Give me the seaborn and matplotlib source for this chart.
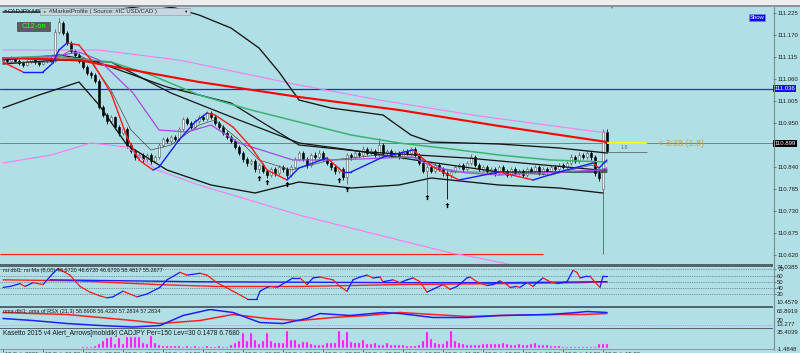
import numpy as np
import pandas as pd
import matplotlib
matplotlib.use("Agg")
import matplotlib.pyplot as plt
from matplotlib.patches import Rectangle
from matplotlib.lines import Line2D
from matplotlib.transforms import ScaledTranslation
import seaborn as sns

# ------------------------------------------------------------------ data
bar_idx = list(range(152))
opens = [111.106, 111.110, 111.104, 111.112, 111.106, 111.100, 111.096, 111.104, 111.109, 111.102,
         111.098, 111.105, 111.112, 111.106, 111.178, 111.200, 111.175, 111.150, 111.130, 111.120,
         111.105, 111.090, 111.075, 111.070, 111.055, 110.990, 110.970, 110.955, 110.965, 110.940,
         110.925, 110.935, 110.895, 110.880, 110.865, 110.870, 110.860, 110.870, 110.855, 110.865,
         110.895, 110.910, 110.905, 110.915, 110.910, 110.935, 110.960, 110.950, 110.940, 110.955,
         110.965, 110.960, 110.975, 110.965, 110.950, 110.940, 110.925, 110.915, 110.905, 110.890,
         110.875, 110.860, 110.850, 110.855, 110.835, 110.845, 110.830, 110.820, 110.835, 110.825,
         110.840, 110.835, 110.820, 110.840, 110.860, 110.875, 110.860, 110.845, 110.870, 110.865,
         110.875, 110.860, 110.850, 110.840, 110.830, 110.835, 110.815, 110.870, 110.865, 110.875,
         110.870, 110.885, 110.875, 110.880, 110.870, 110.895, 110.875, 110.880, 110.870, 110.875,
         110.865, 110.880, 110.875, 110.885, 110.870, 110.850, 110.830, 110.840, 110.830, 110.845,
         110.835, 110.825, 110.820, 110.830, 110.840, 110.845, 110.835, 110.850, 110.865, 110.845,
         110.835, 110.840, 110.830, 110.835, 110.825, 110.840, 110.830, 110.820, 110.835, 110.825,
         110.830, 110.820, 110.835, 110.830, 110.840, 110.825, 110.835, 110.830, 110.840, 110.835,
         110.845, 110.840, 110.850, 110.865, 110.855, 110.870, 110.865, 110.875, 110.865, 110.825,
         110.785, 110.928]
closes = [111.110, 111.104, 111.112, 111.106, 111.100, 111.096, 111.104, 111.109, 111.102, 111.098,
          111.105, 111.112, 111.106, 111.178, 111.203, 111.175, 111.150, 111.130, 111.120, 111.105,
          111.090, 111.075, 111.070, 111.055, 110.990, 110.970, 110.955, 110.965, 110.940, 110.925,
          110.935, 110.895, 110.880, 110.865, 110.870, 110.860, 110.870, 110.855, 110.865, 110.895,
          110.910, 110.905, 110.915, 110.910, 110.935, 110.960, 110.950, 110.940, 110.955, 110.965,
          110.960, 110.975, 110.965, 110.950, 110.940, 110.925, 110.915, 110.905, 110.890, 110.875,
          110.860, 110.850, 110.855, 110.835, 110.845, 110.830, 110.820, 110.835, 110.825, 110.840,
          110.835, 110.820, 110.840, 110.860, 110.875, 110.860, 110.845, 110.870, 110.865, 110.875,
          110.860, 110.850, 110.840, 110.830, 110.835, 110.815, 110.870, 110.865, 110.875, 110.870,
          110.885, 110.875, 110.880, 110.870, 110.895, 110.875, 110.880, 110.870, 110.875, 110.865,
          110.880, 110.875, 110.885, 110.870, 110.850, 110.830, 110.840, 110.830, 110.845, 110.835,
          110.825, 110.820, 110.830, 110.840, 110.845, 110.835, 110.850, 110.865, 110.845, 110.835,
          110.840, 110.830, 110.835, 110.825, 110.840, 110.830, 110.820, 110.835, 110.825, 110.830,
          110.820, 110.835, 110.830, 110.840, 110.825, 110.835, 110.830, 110.840, 110.835, 110.845,
          110.840, 110.850, 110.865, 110.855, 110.870, 110.865, 110.875, 110.865, 110.825, 110.812,
          110.928, 110.880]
highs = [111.115, 111.114, 111.117, 111.116, 111.110, 111.105, 111.109, 111.114, 111.113, 111.106,
         111.110, 111.118, 111.116, 111.184, 111.212, 111.206, 111.180, 111.156, 111.136, 111.125,
         111.110, 111.095, 111.080, 111.076, 111.060, 110.996, 110.975, 110.970, 110.968, 110.945,
         110.941, 110.940, 110.900, 110.884, 110.876, 110.875, 110.875, 110.874, 110.870, 110.900,
         110.915, 110.914, 110.921, 110.919, 110.940, 110.966, 110.964, 110.955, 110.960, 110.971,
         110.969, 110.980, 110.979, 110.969, 110.955, 110.944, 110.930, 110.920, 110.909, 110.894,
         110.880, 110.864, 110.861, 110.859, 110.851, 110.850, 110.835, 110.841, 110.840, 110.846,
         110.845, 110.839, 110.846, 110.866, 110.881, 110.880, 110.865, 110.876, 110.878, 110.882,
         110.879, 110.865, 110.855, 110.845, 110.841, 110.839, 110.876, 110.875, 110.882, 110.880,
         110.892, 110.890, 110.887, 110.885, 110.912, 110.900, 110.886, 110.884, 110.881, 110.879,
         110.886, 110.884, 110.891, 110.889, 110.874, 110.855, 110.846, 110.845, 110.851, 110.850,
         110.840, 110.830, 110.836, 110.846, 110.851, 110.850, 110.856, 110.872, 110.870, 110.850,
         110.846, 110.845, 110.841, 110.840, 110.846, 110.845, 110.834, 110.841, 110.840, 110.836,
         110.835, 110.841, 110.840, 110.846, 110.845, 110.841, 110.840, 110.846, 110.845, 110.851,
         110.850, 110.856, 110.872, 110.870, 110.877, 110.875, 110.882, 110.880, 110.870, 110.830,
         110.935, 110.935]
lows = [111.101, 111.099, 111.100, 111.102, 111.094, 111.090, 111.092, 111.100, 111.097, 111.093,
        111.094, 111.101, 111.102, 111.103, 111.172, 111.170, 111.145, 111.125, 111.114, 111.100,
        111.084, 111.069, 111.063, 111.050, 110.984, 110.964, 110.948, 110.950, 110.934, 110.918,
        110.920, 110.888, 110.874, 110.858, 110.860, 110.852, 110.855, 110.848, 110.850, 110.861,
        110.890, 110.899, 110.901, 110.904, 110.906, 110.931, 110.945, 110.935, 110.936, 110.950,
        110.954, 110.956, 110.960, 110.945, 110.934, 110.920, 110.909, 110.899, 110.884, 110.869,
        110.853, 110.843, 110.845, 110.828, 110.826, 110.824, 110.813, 110.816, 110.818, 110.820,
        110.828, 110.812, 110.815, 110.836, 110.855, 110.854, 110.838, 110.840, 110.858, 110.860,
        110.854, 110.844, 110.833, 110.823, 110.824, 110.808, 110.797, 110.858, 110.860, 110.864,
        110.866, 110.869, 110.870, 110.864, 110.866, 110.868, 110.870, 110.864, 110.865, 110.859,
        110.861, 110.869, 110.870, 110.864, 110.844, 110.824, 110.772, 110.824, 110.826, 110.829,
        110.818, 110.760, 110.812, 110.826, 110.835, 110.829, 110.831, 110.846, 110.839, 110.829,
        110.830, 110.824, 110.825, 110.818, 110.821, 110.824, 110.814, 110.816, 110.819, 110.820,
        110.814, 110.816, 110.824, 110.825, 110.819, 110.820, 110.824, 110.825, 110.829, 110.830,
        110.834, 110.835, 110.845, 110.849, 110.850, 110.859, 110.860, 110.858, 110.818, 110.806,
        110.622, 110.874]

# moving averages / bands on the price chart (bar index, price)
red200_x = [0, 19, 24, 49, 74, 99, 124, 151]
red200_y = [111.1125, 111.1075, 111.0975, 111.0525, 111.015, 110.9825, 110.9425, 110.9025]
green_x = [0, 12, 27, 37, 49, 62, 74, 87, 99, 112, 124, 137, 151]
green_y = [111.1125, 111.1175, 111.1025, 111.070, 111.020, 110.9825, 110.9525, 110.920, 110.900,
           110.885, 110.870, 110.8575, 110.8525]
pink_up_x = [0, 24, 44, 74, 94, 119, 149, 151]
pink_up_y = [111.1325, 111.1325, 111.1075, 111.045, 111.0075, 110.9675, 110.9275, 110.9275]
pink_lo_x = [0, 12, 22, 31, 38.5, 49, 59, 74, 87, 99, 112, 119, 132]
pink_lo_y = [110.850, 110.870, 110.900, 110.890, 110.8325, 110.795, 110.765, 110.720, 110.6875,
             110.6575, 110.625, 110.6125, 110.585]
blk_up_x = [0, 24, 37, 43, 49, 57, 64, 69, 74, 82, 95, 102, 107, 124, 139, 151]
blk_up_y = [111.2275, 111.2275, 111.245, 111.2375, 111.220, 111.1875, 111.1375, 111.0775, 111.0075,
            110.9875, 110.970, 110.920, 110.9025, 110.8975, 110.8875, 110.875]
blk_lo_x = [0, 9, 19, 24, 31, 41, 52, 63, 74, 87, 99, 107, 124, 139, 150]
blk_lo_y = [110.9875, 111.020, 111.0525, 110.995, 110.895, 110.8325, 110.795, 110.775, 110.8025,
            110.7875, 110.795, 110.8125, 110.795, 110.7875, 110.775]
mid1_x = [0, 14, 22, 41, 57, 72, 74, 91, 116, 149, 151]
mid1_y = [111.1075, 111.120, 111.1075, 111.040, 111.000, 110.9075, 110.895, 110.8775, 110.8625,
          110.8325, 110.8325]
mid2_x = [0, 14, 27, 42, 59, 74, 87, 103, 124, 151]
mid2_y = [111.0975, 111.1075, 111.1025, 111.025, 110.9575, 110.900, 110.8825, 110.8575, 110.8275,
          110.8275]
gray_x = [0, 12, 17, 22, 27, 32, 37, 42, 49, 53, 59, 64, 72, 82, 94, 104, 112, 124, 137, 147, 149]
gray_y = [111.100, 111.1025, 111.1325, 111.1025, 111.0325, 110.9325, 110.8825, 110.895, 110.945,
          110.9575, 110.9075, 110.8575, 110.8325, 110.8575, 110.870, 110.8625, 110.8275, 110.8275,
          110.820, 110.845, 110.8375]
violet_x = [0, 12, 19, 24, 32.5, 39, 46, 52, 59, 72.5, 82.5, 102.5, 107.5, 116, 124, 149, 151]
violet_y = [111.1125, 111.115, 111.1275, 111.1075, 111.025, 110.9325, 110.9275, 110.945, 110.900,
            110.8575, 110.8575, 110.865, 110.840, 110.825, 110.820, 110.8325, 110.8375]
fast_x = [0, 2, 5, 10, 12.5, 14, 16, 19, 22, 27, 31, 34, 37.5, 39, 44, 48, 51, 53, 57.5, 62,
          66, 71, 74, 81, 85, 87, 95, 102.5, 107.5, 114, 124, 132.5, 139, 147.5, 149, 151]
fast_y = [111.1025, 111.0925, 111.0775, 111.0775, 111.100, 111.1325, 111.150, 111.145, 111.1075,
          111.025, 110.915, 110.8575, 110.8325, 110.840, 110.9075, 110.9525, 110.975, 110.970,
          110.940, 110.890, 110.8325, 110.8075, 110.8375, 110.8625, 110.8275, 110.8275, 110.865,
          110.8825, 110.840, 110.8075, 110.8275, 110.8075, 110.8275, 110.850, 110.8375, 110.8575]
arrow_bars = [64, 66, 71, 84, 86, 106, 111]
arrow_prices = [110.8125, 110.803, 110.798, 110.8075, 110.785, 110.765, 110.745]

level_blue = 111.036
bid_price = 110.899
profile_level = 110.6225
profile_end_bar = 135
price_ticks = [111.225, 111.170, 111.115, 111.060, 111.005, 110.950, 110.895, 110.840,
               110.785, 110.730, 110.675, 110.620]

# RSI panel
rsi_x = [0, 1.75, 4.25, 5.5, 7.5, 10, 12.5, 13.75, 15.5, 16.75, 19.25, 21.75, 24.25, 26, 27.5, 30,
         33.5, 36, 39.25, 41, 44.25, 46, 49.25, 51, 53.5, 57.5, 61, 63.5, 64.25, 66, 66.75, 68.5,
         72.5, 74.25, 76, 77.5, 79.25, 82.5, 84.25, 86, 87.5, 89.25, 91, 92.5, 94.25, 95, 97.5,
         99.25, 101, 102.5, 104.25, 106, 107.5, 108.5, 110, 111.75, 113.5, 116, 116.75, 118.5, 121,
         122.5, 124.25, 126, 126.75, 128.5, 129.25, 131, 132.5, 133.5, 135, 136.75, 138.5, 141,
         142.5, 143.5, 144.25, 146, 146.75, 147.5, 149.25, 150, 151]
rsi_y = [40.8, 42.3, 46.9, 42.3, 48.5, 45.4, 63.8, 71.5, 65.4, 60.8, 42.3, 33.1, 26.9, 23.8, 25.4,
         34.6, 25.4, 30.0, 40.8, 53.1, 65.4, 60.8, 63.8, 60.8, 48.5, 34.6, 22.3, 22.3, 34.6, 40.8,
         42.3, 40.8, 56.2, 56.2, 45.4, 56.2, 57.7, 53.1, 42.3, 34.6, 53.1, 57.7, 60.8, 56.2, 57.7,
         50.0, 53.1, 48.5, 53.1, 56.2, 50.0, 33.1, 37.7, 40.8, 45.4, 37.7, 42.3, 56.2, 57.7, 50.0,
         43.8, 45.4, 51.5, 45.4, 40.8, 42.3, 40.8, 48.5, 42.3, 48.5, 56.2, 50.0, 46.9, 50.0, 68.5,
         65.4, 56.2, 59.2, 59.2, 53.1, 40.8, 59.2, 59.2]
rsi_red_x = [0, 18.5, 38.5, 53.5, 74.25, 99.25, 124.25, 144.25, 151]
rsi_red_y = [53.1, 51.5, 45.4, 42.3, 42.3, 45.4, 46.9, 48.5, 50.0]
rsi_blue_x = [11.75, 49.25, 99.25, 124.25, 149.25, 151]
rsi_blue_y = [53.1, 50.0, 48.5, 48.5, 50.0, 50.0]
rsi_levels = [70, 60, 50, 40, 30]

# OMA of RSX panel
oma_blue_x = [0, 7.5, 16, 24.25, 32.5, 39.25, 45, 51.75, 57.5, 64.25, 70, 76, 79.25, 86.75, 95,
              99.25, 107.5, 116, 124.25, 136.75, 143.5, 146, 151]
oma_blue_y = [38.2, 32.6, 24.3, 18.8, 14.6, 18.8, 46.5, 63.1, 54.8, 27.1, 24.3, 38.2, 52.0, 46.5,
              54.8, 52.0, 41.0, 41.0, 46.5, 49.3, 54.8, 57.6, 54.8]
oma_red_x = [0, 7.5, 16, 24.25, 32.5, 39.25, 49.25, 57.5, 66, 74.25, 82.5, 91, 99.25, 107.5, 116,
             124.25, 136.75, 145, 151]
oma_red_y = [54.8, 52.0, 49.3, 41.0, 32.6, 24.3, 32.6, 49.3, 38.2, 32.6, 41.0, 46.5, 54.8, 49.3,
             43.8, 46.5, 49.3, 49.3, 52.0]

# Kasetto histogram
kasetto = [0.5, 0.5, 0.5, 0.5, 0.5, 0.5, 0.5, 0.5, 0.5, 0.5,
           0.5, 0.5, 0.5, 0.5, 0.5, 0.5, 0.5, 0.5, 0.5, 0.5,
           1.5, 2, 3, 4,
           8, 14, 20, 22, 8, 20, 8, 21, 22, 22,
           22, 10, 8, 24, 10, 6,
           5, 4, 5, 4, 4, 3, 4, 3, 4, 3,
           3, 4, 3, 3, 4, 3, 3,
           6, 10, 14, 28, 14, 28, 16, 8, 14, 28,
           14, 10, 10, 10, 32, 16, 16, 8,
           12, 12, 8, 6, 6, 6, 10, 10, 10, 32,
           16, 30, 12, 10, 10, 16, 8, 8, 10, 6,
           6, 10, 6, 6, 6, 6, 4, 4, 4, 6,
           14, 30, 18, 10, 8, 8, 14, 32, 14, 10,
           8, 6, 6, 6, 6, 8, 8, 8, 8, 8,
           10, 8, 7, 7, 8, 7, 7, 8, 10, 6,
           6, 6, 5, 5, 5, 2, 2, 2, 2, 2,
           2, 2, 2, 2, 8, 8, 8]

date_bars = [0, 10, 20, 30, 40, 50, 60, 70, 80, 90, 100, 110, 120, 130, 140, 150]
date_labels = ["15 Feb 2021", "15 Feb 01:20", "15 Feb 02:20", "15 Feb 03:20", "15 Feb 04:20",
               "15 Feb 05:20", "15 Feb 06:20", "15 Feb 07:20", "15 Feb 08:20", "15 Feb 09:20",
               "15 Feb 10:20", "15 Feb 11:20", "15 Feb 12:20", "15 Feb 13:20", "15 Feb 14:20",
               "15 Feb 15:20"]

# ------------------------------------------------------------------ style
BG = "#b0dfe5"
sns.set_theme(style="white", rc={"axes.facecolor": BG, "figure.facecolor": BG})
plt.rcParams["font.family"] = ["Liberation Sans", "DejaVu Sans"]

W, H = 800, 353
XMIN, XMAX = -0.75, 192.5
FS = 4.3


def fx(px):
    return px / W


def fy(py):
    return 1 - py / H


fig = plt.figure(figsize=(8, 3.53), dpi=100, facecolor=BG)


def panel(top, bottom):
    return fig.add_axes([0, fy(bottom), fx(773), (bottom - top) / H])


ax_main = panel(7, 264)
ax_rsi = panel(267, 306)
ax_oma = panel(308.5, 327.5)
ax_kas = panel(329.5, 349)


def seg_frame(xs, ys):
    rows = []
    for k in range(len(xs) - 1):
        d = "up" if ys[k + 1] >= ys[k] else "down"
        rows.append((k, xs[k], ys[k], d))
        rows.append((k, xs[k + 1], ys[k + 1], d))
    return pd.DataFrame(rows, columns=["seg", "x", "y", "dir"])


def line(ax, xs, ys, color, lw, z):
    sns.lineplot(x=xs, y=ys, ax=ax, color=color, linewidth=lw, estimator=None,
                 sort=False, legend=False, zorder=z)


def dirline(ax, xs, ys, lw, z, up="#1a1aff", down="#ff1a1a"):
    df = seg_frame(xs, ys)
    sns.lineplot(data=df, x="x", y="y", units="seg", hue="dir",
                 palette={"up": up, "down": down}, estimator=None, sort=False,
                 legend=False, linewidth=lw, zorder=z, ax=ax)


# ---------------- main price chart
o = np.array(opens); c = np.array(closes); h = np.array(highs); l = np.array(lows)
bull = c >= o
wick_cols = np.where(bull, "#5e5e5e", "#000000")
ax_main.vlines(bar_idx, l, h, colors=wick_cols, linewidth=0.6, zorder=3)
ax_main.bar(bar_idx, np.maximum(np.abs(c - o), 0.0008), bottom=np.minimum(o, c), width=0.55,
            color=np.where(bull, "#f6f6f6", "#000000"), edgecolor=np.where(bull, "#5a5a5a", "#000000"),
            linewidth=0.4, zorder=3)

ax_main.axhline(level_blue, color="#2323ff", lw=0.9, zorder=2)
ax_main.axhline(bid_price, color="#738088", lw=0.7, zorder=2)
ax_main.hlines(profile_level, XMIN, profile_end_bar, color="#ff2020", lw=0.8, zorder=2)

line(ax_main, pink_up_x, pink_up_y, "#ee82ee", 0.8, 4)
line(ax_main, pink_lo_x, pink_lo_y, "#ee82ee", 0.8, 4)
line(ax_main, blk_up_x, blk_up_y, "#151515", 0.95, 4)
line(ax_main, blk_lo_x, blk_lo_y, "#151515", 0.95, 4)
line(ax_main, mid1_x, mid1_y, "#151515", 0.9, 4)
line(ax_main, mid2_x, mid2_y, "#151515", 0.9, 4)
line(ax_main, gray_x, gray_y, "#4a4a4a", 0.5, 4)
line(ax_main, green_x, green_y, "#3cb371", 1.1, 5)
line(ax_main, red200_x, red200_y, "#ff0000", 1.5, 5)
line(ax_main, violet_x, violet_y, "#a64ce6", 0.9, 5)
dirline(ax_main, fast_x, fast_y, 1.0, 6)

arrow_marker = [(0, 1), (-0.8, 0.15), (-0.28, 0.15), (-0.28, -1), (0.28, -1), (0.28, 0.15),
                (0.8, 0.15), (0, 1)]
ax_main.scatter(arrow_bars, arrow_prices, marker=arrow_marker, s=14, color="black",
                linewidths=0, zorder=7)

# spread / timer annotation right of the last bar
ax_main.hlines(bid_price, 151, 161, color="#ffff00", lw=1.3, zorder=7)
ax_main.hlines(110.8775, 151, 161, color="#6a7a80", lw=0.7, zorder=6)
ax_main.text(154.5, 110.8875, "1.8", fontsize=3.8, color="#5d6d74", va="center", zorder=7)
ax_main.text(163.8, 110.8975, "< 3:38 (1.8)", fontsize=6.4, color="#d4a23a", va="center", zorder=7)

# ---------------- RSI panel
for v in rsi_levels:
    ax_rsi.axhline(v, color="#556268", lw=0.5, ls=(0, (1.2, 1.4)), zorder=1)
line(ax_rsi, rsi_red_x, rsi_red_y, "#ff2020", 1.0, 3)
line(ax_rsi, rsi_blue_x, rsi_blue_y, "#2020ff", 1.0, 3)
dirline(ax_rsi, rsi_x, rsi_y, 0.9, 4)

# ---------------- OMA panel
ax_oma.axhline(20, color="#c488f0", lw=0.6, ls=(0, (1.2, 1.4)), zorder=1)
line(ax_oma, oma_red_x, oma_red_y, "#ff2020", 1.1, 3)
line(ax_oma, oma_blue_x, oma_blue_y, "#2020ff", 1.1, 4)

# ---------------- Kasetto histogram
sns.barplot(x=bar_idx, y=kasetto, native_scale=True, color="#ff00ff", saturation=1,
            width=0.62, edgecolor="#ff9cff", linewidth=0.35, errorbar=None, ax=ax_kas)


# ---------------- axes styling
def style(ax, ylim):
    ax.set_facecolor(BG)
    ax.set_xlim(XMIN, XMAX)
    ax.set_ylim(*ylim)
    for s in ax.spines.values():
        s.set_visible(False)
    ax.yaxis.tick_right()
    ax.tick_params(axis="y", length=2, width=0.5, color="#505050", pad=1.0,
                   labelsize=FS, labelcolor="#222222", right=True, left=False)
    ax.tick_params(axis="x", bottom=False, labelbottom=False)
    ax.set_xlabel("")
    ax.set_ylabel("")
    ax.grid(False)


style(ax_main, (110.5975, 111.24))
ax_main.set_yticks(price_ticks)
# the 110.895 label sits under the bid-price box on the scale
ax_main.set_yticklabels([f"{v:.3f}" if abs(v - bid_price) > 0.01 else "" for v in price_ticks])

style(ax_rsi, (10.4579, 74.0385))
ax_rsi.set_yticks(rsi_levels)
ax_rsi.set_yticklabels([str(v) for v in rsi_levels])

style(ax_oma, (13.277, 65.8919))
ax_oma.set_yticks([])
style(ax_kas, (-1.4848, 35.4039))
ax_kas.set_yticks([])

ax_kas.set_xticks(date_bars)
ax_kas.set_xticklabels(date_labels, ha="left")
ax_kas.tick_params(axis="x", bottom=True, labelbottom=True, length=1.8, width=0.5,
                   color="#404040", pad=0.0, labelsize=FS, labelcolor="#333333")
for lbl in ax_kas.get_xticklabels():
    lbl.set_transform(lbl.get_transform() + ScaledTranslation(2 / 100, 0, fig.dpi_scale_trans))
ax_kas.spines["bottom"].set_visible(True)
ax_kas.spines["bottom"].set_color("#7d8c92")
ax_kas.spines["bottom"].set_linewidth(0.6)

tkw = dict(fontsize=FS, color="#222222", ha="left", va="center", clip_on=False)
ax_rsi.text(1.0052, 0.975, "74.0385", transform=ax_rsi.transAxes, **tkw)
ax_rsi.text(1.0052, 0.077, "10.4579", transform=ax_rsi.transAxes, **tkw)
ax_oma.text(1.0052, 0.83, "65.8919", transform=ax_oma.transAxes, **tkw)
ax_oma.text(1.0052, 0.37, "20", transform=ax_oma.transAxes, **tkw)
ax_oma.text(1.0052, 0.14, "13.277", transform=ax_oma.transAxes, **tkw)
ax_kas.text(1.0052, 0.84, "35.4039", transform=ax_kas.transAxes, **tkw)
ax_kas.text(1.0052, -0.02, "-1.4848", transform=ax_kas.transAxes, **tkw)

# price boxes on the scale
ax_main.text(1.0015, level_blue, "111.036", transform=ax_main.get_yaxis_transform(),
             ha="left", va="center", fontsize=FS, color="white", clip_on=False, zorder=10,
             bbox=dict(boxstyle="square,pad=0.2", fc="#1010ff", ec="none"))
ax_main.text(1.0015, bid_price, "110.899", transform=ax_main.get_yaxis_transform(),
             ha="left", va="center", fontsize=FS, color="white", clip_on=False, zorder=10,
             bbox=dict(boxstyle="square,pad=0.2", fc="#000000", ec="none"))

# indicator captions
cap = dict(color="#1a1a1a", ha="left", va="top", zorder=10)
ax_rsi.text(0.004, 0.98, "rsi dbl1: rsi Ma (8,00) 46.6720 46.6720 46.6720 58.4817 55.2677",
            transform=ax_rsi.transAxes, fontsize=4.0, **cap)
ax_oma.text(0.004, 0.98, "oma dbl1: oma of RSX (21,3) 58.8908 56.4220 57.2834 57.2834",
            transform=ax_oma.transAxes, fontsize=4.0, **cap)
ax_kas.text(0.004, 0.98, "Kasetto 2015 v4 Alert_Arrows[mobidik] CADJPY Per=150 Lev=30 0.1478 6.7680",
            transform=ax_kas.transAxes, fontsize=4.8, **cap)


# ---------------- figure furniture (toolbar, separators, buttons)
def frect(x0, y0, x1, y1, **kw):
    fig.add_artist(Rectangle((fx(x0), fy(y1)), fx(x1 - x0), (y1 - y0) / H,
                             transform=fig.transFigure, **kw))


frect(0, 0, 800, 4.8, facecolor="#eeeeee", edgecolor="none")
frect(0, 4.8, 800, 6.8, facecolor="#8e9296", edgecolor="none")
for (t, b) in [(264.3, 266.6), (306.2, 308.2), (327.6, 329.4)]:
    frect(0, t, 773, b, facecolor="#55656d", edgecolor="none")
fig.add_artist(Line2D([fx(773.5), fx(773.5)], [fy(6.8), fy(350)], color="#7d8c92", lw=0.8,
                      transform=fig.transFigure))

fig.text(fx(2), fy(10.5), "◄", fontsize=3.2, color="#222222", va="center")
fig.text(fx(8), fy(10.5), "CADJPY,M5", fontsize=4.4, color="#111111", va="center")
frect(40, 7.8, 190, 15.3, facecolor="#c9d6df", edgecolor="#90a4b0", linewidth=0.5)
fig.text(fx(42.5), fy(11.6), "●", fontsize=3.8, color="#3d9a3d", va="center")
fig.text(fx(49), fy(11.6), "#MarketProfile ( Source: #IC USD/CAD )", fontsize=4.3,
         color="#2a2a2a", va="center")
fig.text(fx(183.5), fy(11.6), "▼", fontsize=3.2, color="#222222", va="center")

frect(17, 21.5, 50, 31, facecolor="#5c5c5c", edgecolor="#444444", linewidth=0.5)
fig.text(fx(33.5), fy(26.2), "C12-on", fontsize=5.4, color="#33ff33", ha="center", va="center")

frect(749, 13.8, 765, 21, facecolor="#0a0af0", edgecolor="#8080ff", linewidth=0.4)
fig.text(fx(757), fy(17.4), "Show", fontsize=4.2, color="white", ha="center", va="center")

fig.text(fx(611), fy(8), "▼", fontsize=3, color="#7a7a7a", ha="center", va="center")

fig.savefig("out.png", dpi=100, facecolor=BG)
